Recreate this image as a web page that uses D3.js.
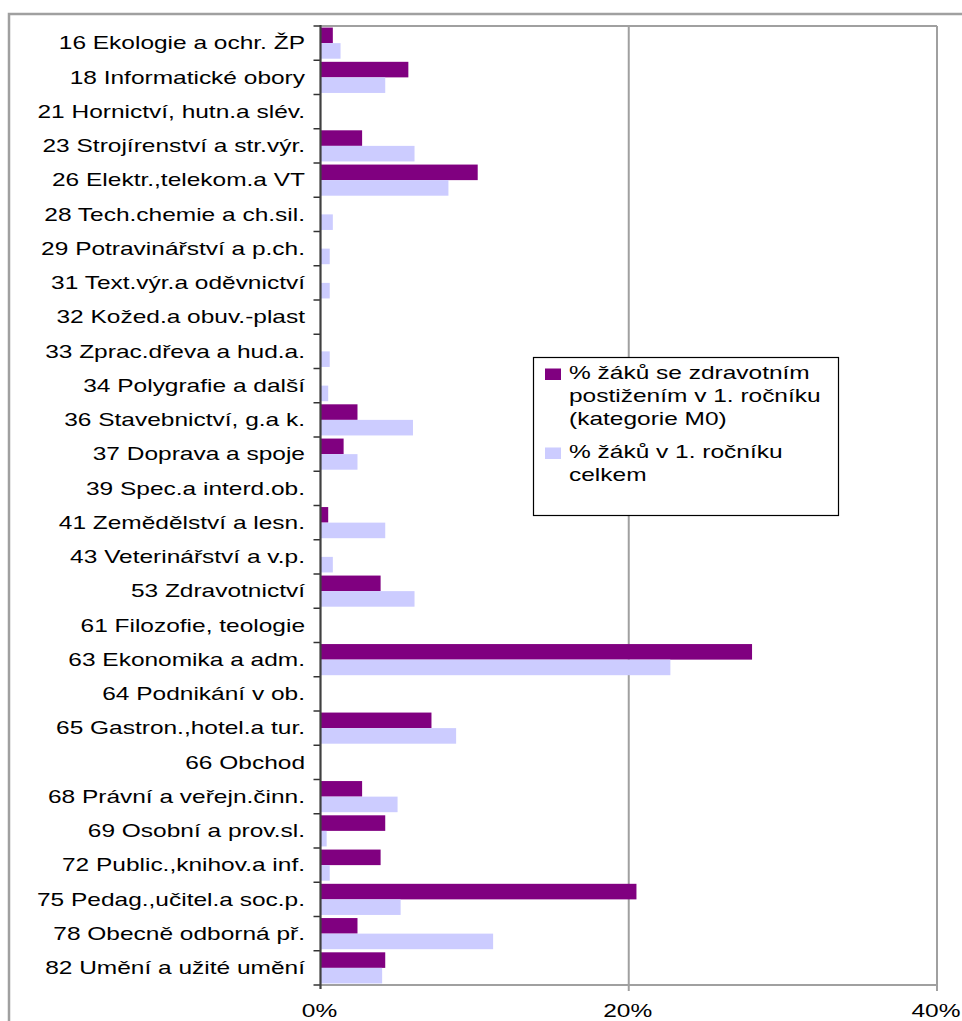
<!DOCTYPE html>
<html>
<head>
<meta charset="utf-8">
<script src="https://cdn.jsdelivr.net/npm/d3@7"></script>
<style>
  body { margin: 0; background: #fff; }
  svg { display: block; font-family: "Liberation Sans", Arial, sans-serif; }
</style>
</head>
<body>
<div id="chart"></div>
<script>
// categories (top to bottom)
var categories = [
  "16 Ekologie a ochr. ŽP", "18 Informatické obory", "21 Hornictví, hutn.a slév.",
  "23 Strojírenství a str.výr.", "26 Elektr.,telekom.a VT", "28 Tech.chemie a ch.sil.",
  "29 Potravinářství a p.ch.", "31 Text.výr.a oděvnictví", "32 Kožed.a obuv.-plast",
  "33 Zprac.dřeva a hud.a.", "34 Polygrafie a další", "36 Stavebnictví, g.a k.",
  "37 Doprava a spoje", "39 Spec.a interd.ob.", "41 Zemědělství a lesn.",
  "43 Veterinářství a v.p.", "53 Zdravotnictví", "61 Filozofie, teologie",
  "63 Ekonomika a adm.", "64 Podnikání v ob.", "65 Gastron.,hotel.a tur.",
  "66 Obchod", "68 Právní a veřejn.činn.", "69 Osobní a prov.sl.",
  "72 Public.,knihov.a inf.", "75 Pedag.,učitel.a soc.p.", "78 Obecně odborná př.",
  "82 Umění a užité umění"
];

// % žáků se zdravotním postižením v 1. ročníku (kategorie M0)
var postizeni = [
  0.8, 5.7, 0, 2.7, 10.2, 0, 0, 0, 0, 0, 0, 2.4, 1.5, 0, 0.5, 0, 3.9, 0,
  28.0, 0, 7.2, 0, 2.7, 4.2, 3.9, 20.5, 2.4, 4.2
];

// % žáků v 1. ročníku celkem
var celkem = [
  1.3, 4.2, 0, 6.1, 8.3, 0.8, 0.6, 0.6, 0, 0.6, 0.5, 6.0, 2.4, 0, 4.2, 0.8, 6.1, 0,
  22.7, 0, 8.8, 0, 5.0, 0.4, 0.6, 5.2, 11.2, 4.0
];

var seriesNames = [
  ["% žáků se zdravotním", "postižením v 1. ročníku", "(kategorie M0)"],
  ["% žáků v 1. ročníku", "celkem"]
];
var seriesColors = ["#800080", "#ccccff"];
var xTicks = [0, 20, 40];

const width = 962, height = 1021;
const plot = {left: 320.5, right: 937, top: 26, bottom: 985};
const stretch = 1.4;   // text in the original is drawn wide
const fontSize = 17.5;

const svg = d3.select("#chart")
  .append("svg")
  .attr("width", width)
  .attr("height", height);

// outer chart frame
svg.append("rect")
  .attr("x", 9).attr("y", 14)
  .attr("width", 1000).attr("height", 1100)
  .attr("fill", "none")
  .attr("stroke", "#a0a0a0")
  .attr("stroke-width", 2.5);

const x = d3.scaleLinear().domain([0, 40]).range([plot.left, plot.right]);
const y = d3.scaleBand().domain(categories).range([plot.top, plot.bottom]);
const sub = d3.scaleBand().domain([0, 1]).range([0, y.bandwidth()]).paddingOuter(0.1);

// gridlines + plot border
svg.append("g")
  .selectAll("line")
  .data(xTicks.slice(1))
  .join("line")
  .attr("x1", d => x(d)).attr("x2", d => x(d))
  .attr("y1", plot.top).attr("y2", plot.bottom + 6)
  .attr("stroke", "#a0a0a0")
  .attr("stroke-width", 2);

svg.append("line")
  .attr("x1", plot.left).attr("x2", plot.right)
  .attr("y1", plot.top).attr("y2", plot.top)
  .attr("stroke", "#a0a0a0").attr("stroke-width", 2);

// bars
var rows = categories.map((c, i) => ({cat: c, vals: [postizeni[i], celkem[i]]}));
const groups = svg.append("g")
  .selectAll("g")
  .data(rows)
  .join("g")
  .attr("transform", d => `translate(0,${y(d.cat)})`);

groups.selectAll("rect")
  .data(d => d.vals.map((v, k) => ({k: k, v: v})))
  .join("rect")
  .attr("x", x(0))
  .attr("y", d => sub(d.k))
  .attr("width", d => x(d.v) - x(0))
  .attr("height", sub.bandwidth())
  .attr("fill", d => seriesColors[d.k]);

// bottom axis line and labels
svg.append("line")
  .attr("x1", plot.left).attr("x2", plot.right)
  .attr("y1", plot.bottom).attr("y2", plot.bottom)
  .attr("stroke", "#a0a0a0").attr("stroke-width", 2);

svg.append("g")
  .selectAll("text")
  .data(xTicks)
  .join("text")
  .attr("transform", d => `translate(${x(d) - 1},1017) scale(${stretch},1)`)
  .attr("text-anchor", "middle")
  .attr("font-size", fontSize)
  .attr("fill", "#000")
  .text(d => d + "%");

// left axis: ticks at band boundaries
var boundaries = categories.map(c => y(c)).concat([plot.bottom]);
svg.append("g")
  .selectAll("line")
  .data(boundaries)
  .join("line")
  .attr("x1", plot.left - 7).attr("x2", plot.left)
  .attr("y1", d => d).attr("y2", d => d)
  .attr("stroke", "#333")
  .attr("stroke-width", 1.5);

svg.append("line")
  .attr("x1", plot.left).attr("x2", plot.left)
  .attr("y1", plot.top - 1).attr("y2", plot.bottom + 4)
  .attr("stroke", "#404040").attr("stroke-width", 2.2);

svg.append("g")
  .selectAll("text")
  .data(categories)
  .join("text")
  .attr("transform", d => `translate(305,${y(d) + y.bandwidth() / 2}) scale(${stretch},1)`)
  .attr("dy", "0.36em")
  .attr("text-anchor", "end")
  .attr("font-size", fontSize)
  .attr("fill", "#000")
  .text(d => d);

// legend
const legend = svg.append("g");
legend.append("rect")
  .attr("x", 533.5).attr("y", 357.5)
  .attr("width", 305).attr("height", 158)
  .attr("fill", "#fff")
  .attr("stroke", "#000")
  .attr("stroke-width", 1.2);

var legendTop = [379, 458];
seriesNames.forEach(function(lines, k){
  legend.append("rect")
    .attr("x", 545).attr("y", legendTop[k] - 10.5)
    .attr("width", 16).attr("height", 11.5)
    .attr("fill", seriesColors[k]);
  legend.append("text")
    .attr("transform", `translate(569,0) scale(${stretch},1)`)
    .attr("font-size", fontSize)
    .attr("fill", "#000")
    .selectAll("tspan")
    .data(lines)
    .join("tspan")
    .attr("x", 0)
    .attr("y", (d, i) => legendTop[k] + i * 23)
    .text(d => d);
});
</script>
</body>
</html>
